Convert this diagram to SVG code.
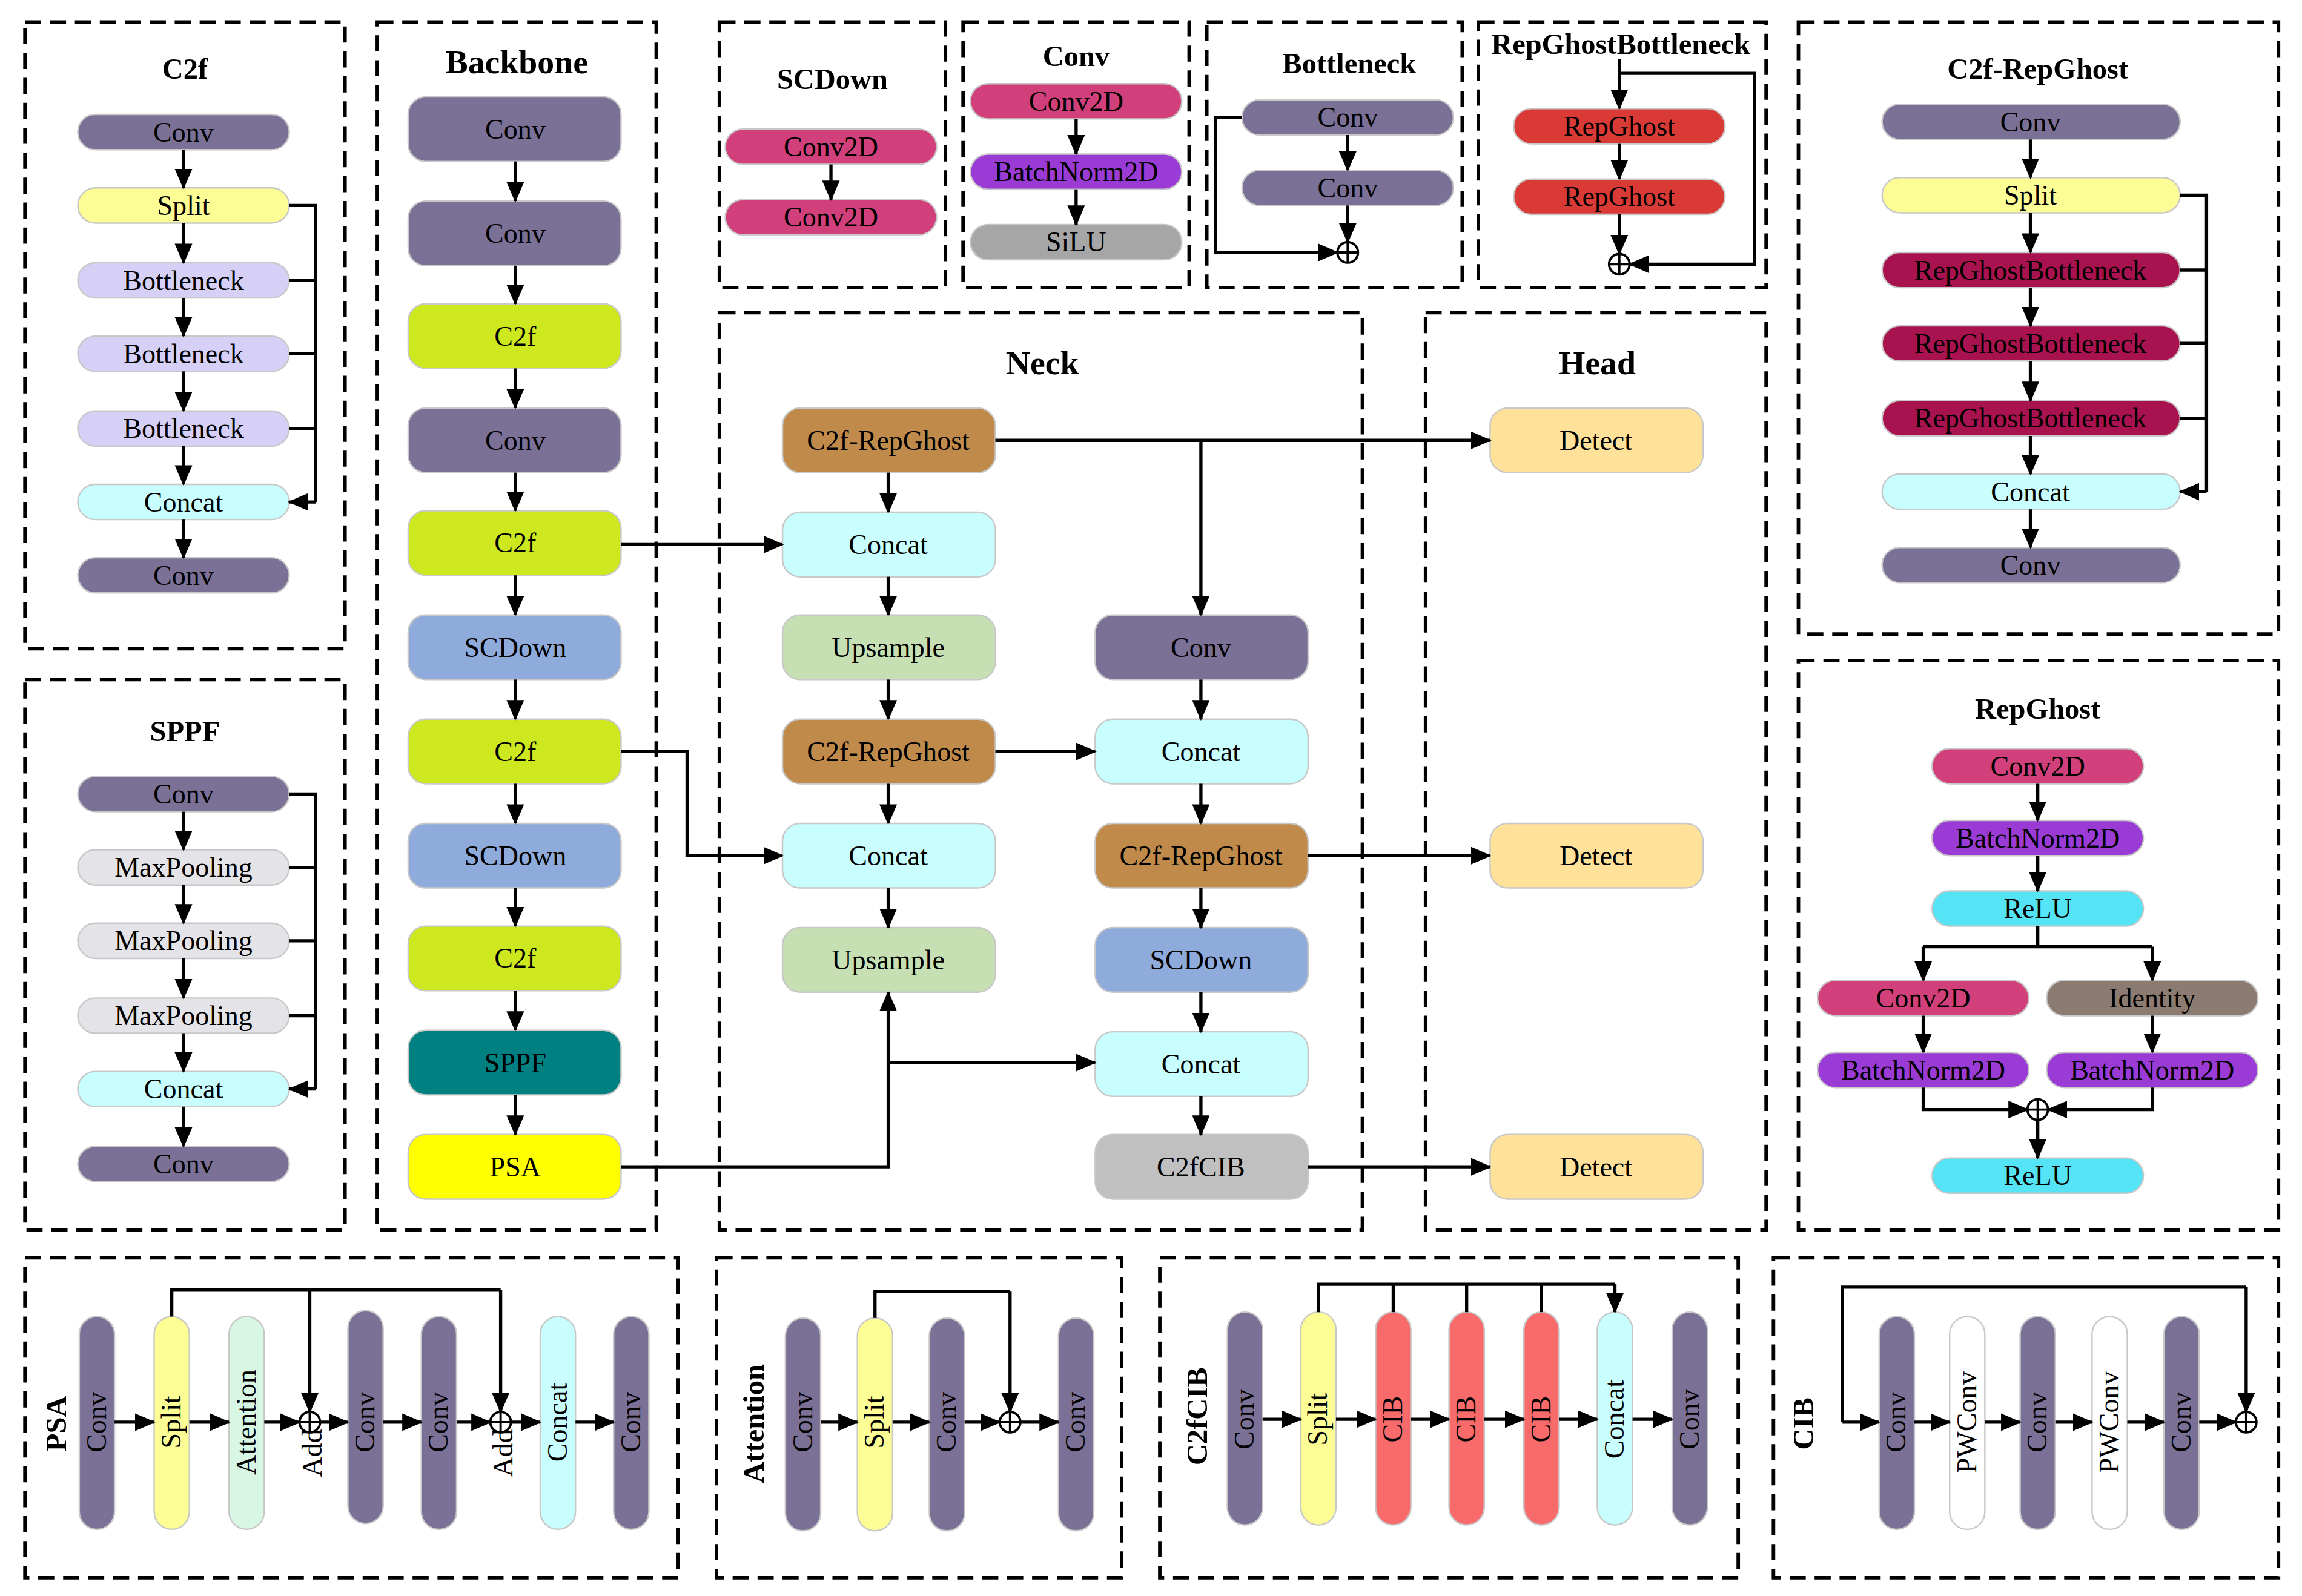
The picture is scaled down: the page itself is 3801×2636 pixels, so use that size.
<svg xmlns="http://www.w3.org/2000/svg" width="3801" height="2636" viewBox="0 0 3801 2636">
<style>
text{font-family:"Liberation Serif","Times New Roman",serif;fill:#000}
.t{font-size:19px;text-anchor:middle;dominant-baseline:central}
.ti{font-size:20px;font-weight:bold;text-anchor:middle;dominant-baseline:central}
.vt{font-size:19px;text-anchor:middle}
.vl{font-size:20px;font-weight:bold;text-anchor:middle}
.box{fill:none;stroke:#000;stroke-width:2.4;stroke-dasharray:11 6}
.n rect{stroke:#C8C8C8;stroke-width:1}
.c{fill:none;stroke:#000;stroke-width:2.2}
.a{fill:none;stroke:#000;stroke-width:2.2;marker-end:url(#ah)}
.op{fill:#fff;stroke:#000;stroke-width:1.6}
.conv{fill:#7B7096}.split{fill:#FDFD96}.bott{fill:#D6D0F7}.concat{fill:#C8FEFE}.mp{fill:#E4E4E8}
.c2f{fill:#CDE81E}.scd{fill:#8FABDB}.sppf{fill:#008080}.psa{fill:#FFFF00}.crg{fill:#C08A4A}
.ups{fill:#C6E0B4}.cib2{fill:#C0C0C0}.det{fill:#FFE199}.c2d{fill:#D1407A}.bn{fill:#9B3BD6}
.silu{fill:#A6A6A6}.rg{fill:#D93A36}.rgb{fill:#A8124E}.relu{fill:#55E4F5}.idn{fill:#8C7B70}
.att{fill:#D7F6E4}.cib{fill:#F96B6B}.pw{fill:#FFFFFF}
</style>
<defs>
<marker id="ah" markerUnits="userSpaceOnUse" markerWidth="14" markerHeight="12" refX="13" refY="6" orient="auto">
<path d="M0,0 L14,6 L0,12 Z" fill="#000"/>
</marker>
</defs>
<rect width="3801" height="2636" fill="#fff"/>
<g transform="scale(2.4241)">
<g id="frames">
<rect class="box" x="17" y="15" width="218" height="427"/>
<rect class="box" x="17" y="463" width="218" height="375"/>
<rect class="box" x="257" y="15" width="190" height="823"/>
<rect class="box" x="490" y="15" width="154" height="181"/>
<rect class="box" x="656" y="15" width="154" height="181"/>
<rect class="box" x="822" y="15" width="174" height="181"/>
<rect class="box" x="1007" y="15" width="196" height="181"/>
<rect class="box" x="1225" y="15" width="327" height="417"/>
<rect class="box" x="490" y="213" width="438" height="625"/>
<rect class="box" x="971" y="213" width="232" height="625"/>
<rect class="box" x="1225" y="450" width="327" height="388"/>
<rect class="box" x="17" y="857" width="445" height="218"/>
<rect class="box" x="488" y="857" width="276" height="218"/>
<rect class="box" x="790" y="857" width="394" height="218"/>
<rect class="box" x="1208" y="857" width="344" height="218"/>
</g>
<g id="titles">
<text class="ti" x="126" y="47">C2f</text>
<text class="ti" x="126" y="498">SPPF</text>
<text class="ti" x="352" y="42" style="font-size:23px">Backbone</text>
<text class="ti" x="567" y="54">SCDown</text>
<text class="ti" x="733" y="38">Conv</text>
<text class="ti" x="919" y="43">Bottleneck</text>
<text class="ti" x="1104" y="30">RepGhostBottleneck</text>
<text class="ti" x="1388" y="47">C2f-RepGhost</text>
<text class="ti" x="710" y="247" style="font-size:23px">Neck</text>
<text class="ti" x="1088" y="247" style="font-size:23px">Head</text>
<text class="ti" x="1388" y="483">RepGhost</text>
<text class="vl" transform="translate(45,970) rotate(-90)">PSA</text>
<text class="vl" transform="translate(520,970) rotate(-90)">Attention</text>
<text class="vl" transform="translate(822,965) rotate(-90)">C2fCIB</text>
<text class="vl" transform="translate(1235,970) rotate(-90)">CIB</text>
</g>
<!-- C2f -->
<g id="c2f_nodes" class="n">
<g id="c2f_conv1"><rect class="conv" x="53" y="78" width="144" height="24" rx="12"/><text class="t" x="125" y="90">Conv</text></g>
<g id="c2f_split"><rect class="split" x="53" y="128" width="144" height="24" rx="12"/><text class="t" x="125" y="140">Split</text></g>
<g id="c2f_b1"><rect class="bott" x="53" y="179" width="144" height="24" rx="12"/><text class="t" x="125" y="191">Bottleneck</text></g>
<g id="c2f_b2"><rect class="bott" x="53" y="229" width="144" height="24" rx="12"/><text class="t" x="125" y="241">Bottleneck</text></g>
<g id="c2f_b3"><rect class="bott" x="53" y="280" width="144" height="24" rx="12"/><text class="t" x="125" y="292">Bottleneck</text></g>
<g id="c2f_concat"><rect class="concat" x="53" y="330" width="144" height="24" rx="12"/><text class="t" x="125" y="342">Concat</text></g>
<g id="c2f_conv2"><rect class="conv" x="53" y="380" width="144" height="24" rx="12"/><text class="t" x="125" y="392">Conv</text></g>
</g>
<!-- SPPF -->
<g id="sppf_nodes" class="n">
<g id="sppf_conv1"><rect class="conv" x="53" y="529" width="144" height="24" rx="12"/><text class="t" x="125" y="541">Conv</text></g>
<g id="sppf_mp1"><rect class="mp" x="53" y="579" width="144" height="24" rx="12"/><text class="t" x="125" y="591">MaxPooling</text></g>
<g id="sppf_mp2"><rect class="mp" x="53" y="629" width="144" height="24" rx="12"/><text class="t" x="125" y="641">MaxPooling</text></g>
<g id="sppf_mp3"><rect class="mp" x="53" y="680" width="144" height="24" rx="12"/><text class="t" x="125" y="692">MaxPooling</text></g>
<g id="sppf_concat"><rect class="concat" x="53" y="730" width="144" height="24" rx="12"/><text class="t" x="125" y="742">Concat</text></g>
<g id="sppf_conv2"><rect class="conv" x="53" y="781" width="144" height="24" rx="12"/><text class="t" x="125" y="793">Conv</text></g>
</g>
<!-- Backbone -->
<g id="backbone_nodes" class="n">
<g id="bb1"><rect class="conv" x="278" y="66" width="145" height="44" rx="12"/><text class="t" x="351" y="88">Conv</text></g>
<g id="bb2"><rect class="conv" x="278" y="137" width="145" height="44" rx="12"/><text class="t" x="351" y="159">Conv</text></g>
<g id="bb3"><rect class="c2f" x="278" y="207" width="145" height="44" rx="12"/><text class="t" x="351" y="229">C2f</text></g>
<g id="bb4"><rect class="conv" x="278" y="278" width="145" height="44" rx="12"/><text class="t" x="351" y="300">Conv</text></g>
<g id="bb5"><rect class="c2f" x="278" y="348" width="145" height="44" rx="12"/><text class="t" x="351" y="370">C2f</text></g>
<g id="bb6"><rect class="scd" x="278" y="419" width="145" height="44" rx="12"/><text class="t" x="351" y="441">SCDown</text></g>
<g id="bb7"><rect class="c2f" x="278" y="490" width="145" height="44" rx="12"/><text class="t" x="351" y="512">C2f</text></g>
<g id="bb8"><rect class="scd" x="278" y="561" width="145" height="44" rx="12"/><text class="t" x="351" y="583">SCDown</text></g>
<g id="bb9"><rect class="c2f" x="278" y="631" width="145" height="44" rx="12"/><text class="t" x="351" y="653">C2f</text></g>
<g id="bb10"><rect class="sppf" x="278" y="702" width="145" height="44" rx="12"/><text class="t" x="351" y="724">SPPF</text></g>
<g id="bb11"><rect class="psa" x="278" y="773" width="145" height="44" rx="12"/><text class="t" x="351" y="795">PSA</text></g>
</g>
<!-- Neck / Head -->
<g id="neck_nodes" class="n">
<g id="nk1"><rect class="crg" x="533" y="278" width="145" height="44" rx="12"/><text class="t" x="605" y="300">C2f-RepGhost</text></g>
<g id="nk2"><rect class="concat" x="533" y="349" width="145" height="44" rx="12"/><text class="t" x="605" y="371">Concat</text></g>
<g id="nk3"><rect class="ups" x="533" y="419" width="145" height="44" rx="12"/><text class="t" x="605" y="441">Upsample</text></g>
<g id="nk4"><rect class="crg" x="533" y="490" width="145" height="44" rx="12"/><text class="t" x="605" y="512">C2f-RepGhost</text></g>
<g id="nk5"><rect class="concat" x="533" y="561" width="145" height="44" rx="12"/><text class="t" x="605" y="583">Concat</text></g>
<g id="nk6"><rect class="ups" x="533" y="632" width="145" height="44" rx="12"/><text class="t" x="605" y="654">Upsample</text></g>
<g id="nk7"><rect class="conv" x="746" y="419" width="145" height="44" rx="12"/><text class="t" x="818" y="441">Conv</text></g>
<g id="nk8"><rect class="concat" x="746" y="490" width="145" height="44" rx="12"/><text class="t" x="818" y="512">Concat</text></g>
<g id="nk9"><rect class="crg" x="746" y="561" width="145" height="44" rx="12"/><text class="t" x="818" y="583">C2f-RepGhost</text></g>
<g id="nk10"><rect class="scd" x="746" y="632" width="145" height="44" rx="12"/><text class="t" x="818" y="654">SCDown</text></g>
<g id="nk11"><rect class="concat" x="746" y="703" width="145" height="44" rx="12"/><text class="t" x="818" y="725">Concat</text></g>
<g id="nk12"><rect class="cib2" x="746" y="773" width="145" height="44" rx="12"/><text class="t" x="818" y="795">C2fCIB</text></g>
<g id="hd1"><rect class="det" x="1015" y="278" width="145" height="44" rx="12"/><text class="t" x="1087" y="300">Detect</text></g>
<g id="hd2"><rect class="det" x="1015" y="561" width="145" height="44" rx="12"/><text class="t" x="1087" y="583">Detect</text></g>
<g id="hd3"><rect class="det" x="1015" y="773" width="145" height="44" rx="12"/><text class="t" x="1087" y="795">Detect</text></g>
</g>
<!-- small modules -->
<g id="mod_nodes" class="n">
<g id="scd1"><rect class="c2d" x="494" y="88" width="144" height="24" rx="12"/><text class="t" x="566" y="100">Conv2D</text></g>
<g id="scd2"><rect class="c2d" x="494" y="136" width="144" height="24" rx="12"/><text class="t" x="566" y="148">Conv2D</text></g>
<g id="cv1"><rect class="c2d" x="661" y="57" width="144" height="24" rx="12"/><text class="t" x="733" y="69">Conv2D</text></g>
<g id="cv2"><rect class="bn" x="661" y="105" width="144" height="24" rx="12"/><text class="t" x="733" y="117">BatchNorm2D</text></g>
<g id="cv3"><rect class="silu" x="661" y="153" width="144" height="24" rx="12"/><text class="t" x="733" y="165">SiLU</text></g>
<g id="bt1"><rect class="conv" x="846" y="68" width="144" height="24" rx="12"/><text class="t" x="918" y="80">Conv</text></g>
<g id="bt2"><rect class="conv" x="846" y="116" width="144" height="24" rx="12"/><text class="t" x="918" y="128">Conv</text></g>
<g id="rgb1"><rect class="rg" x="1031" y="74" width="144" height="24" rx="12"/><text class="t" x="1103" y="86">RepGhost</text></g>
<g id="rgb2"><rect class="rg" x="1031" y="122" width="144" height="24" rx="12"/><text class="t" x="1103" y="134">RepGhost</text></g>
<g id="cr1"><rect class="conv" x="1282" y="71" width="203" height="24" rx="12"/><text class="t" x="1383" y="83">Conv</text></g>
<g id="cr2"><rect class="split" x="1282" y="121" width="203" height="24" rx="12"/><text class="t" x="1383" y="133">Split</text></g>
<g id="cr3"><rect class="rgb" x="1282" y="172" width="203" height="24" rx="12"/><text class="t" x="1383" y="184">RepGhostBottleneck</text></g>
<g id="cr4"><rect class="rgb" x="1282" y="222" width="203" height="24" rx="12"/><text class="t" x="1383" y="234">RepGhostBottleneck</text></g>
<g id="cr5"><rect class="rgb" x="1282" y="273" width="203" height="24" rx="12"/><text class="t" x="1383" y="285">RepGhostBottleneck</text></g>
<g id="cr6"><rect class="concat" x="1282" y="323" width="203" height="24" rx="12"/><text class="t" x="1383" y="335">Concat</text></g>
<g id="cr7"><rect class="conv" x="1282" y="373" width="203" height="24" rx="12"/><text class="t" x="1383" y="385">Conv</text></g>
<g id="rp1"><rect class="c2d" x="1316" y="510" width="144" height="24" rx="12"/><text class="t" x="1388" y="522">Conv2D</text></g>
<g id="rp2"><rect class="bn" x="1316" y="559" width="144" height="24" rx="12"/><text class="t" x="1388" y="571">BatchNorm2D</text></g>
<g id="rp3"><rect class="relu" x="1316" y="607" width="144" height="24" rx="12"/><text class="t" x="1388" y="619">ReLU</text></g>
<g id="rp4"><rect class="c2d" x="1238" y="668" width="144" height="24" rx="12"/><text class="t" x="1310" y="680">Conv2D</text></g>
<g id="rp5"><rect class="idn" x="1394" y="668" width="144" height="24" rx="12"/><text class="t" x="1466" y="680">Identity</text></g>
<g id="rp6"><rect class="bn" x="1238" y="717" width="144" height="24" rx="12"/><text class="t" x="1310" y="729">BatchNorm2D</text></g>
<g id="rp7"><rect class="bn" x="1394" y="717" width="144" height="24" rx="12"/><text class="t" x="1466" y="729">BatchNorm2D</text></g>
<g id="rp8"><rect class="relu" x="1316" y="789" width="144" height="24" rx="12"/><text class="t" x="1388" y="801">ReLU</text></g>
</g>
<!-- bottom vertical nodes -->
<g id="bottom_nodes" class="n">
<g id="p1"><rect class="conv" x="54" y="897" width="24" height="145" rx="12"/><text class="vt" transform="translate(72,969) rotate(-90)">Conv</text></g>
<g id="p2"><rect class="split" x="105" y="897" width="24" height="145" rx="12"/><text class="vt" transform="translate(123,969) rotate(-90)">Split</text></g>
<g id="p3"><rect class="att" x="156" y="897" width="24" height="145" rx="12"/><text class="vt" transform="translate(174,969) rotate(-90)">Attention</text></g>
<g id="p4"><rect class="conv" x="237" y="893" width="24" height="145" rx="12"/><text class="vt" transform="translate(255,969) rotate(-90)">Conv</text></g>
<g id="p5"><rect class="conv" x="287" y="897" width="24" height="145" rx="12"/><text class="vt" transform="translate(305,969) rotate(-90)">Conv</text></g>
<g id="p6"><rect class="concat" x="368" y="897" width="24" height="145" rx="12"/><text class="vt" transform="translate(386,969) rotate(-90)">Concat</text></g>
<g id="p7"><rect class="conv" x="418" y="897" width="24" height="145" rx="12"/><text class="vt" transform="translate(436,969) rotate(-90)">Conv</text></g>
<g id="a1"><rect class="conv" x="535" y="898" width="24" height="145" rx="12"/><text class="vt" transform="translate(553,969) rotate(-90)">Conv</text></g>
<g id="a2"><rect class="split" x="584" y="898" width="24" height="145" rx="12"/><text class="vt" transform="translate(602,969) rotate(-90)">Split</text></g>
<g id="a3"><rect class="conv" x="633" y="898" width="24" height="145" rx="12"/><text class="vt" transform="translate(651,969) rotate(-90)">Conv</text></g>
<g id="a4"><rect class="conv" x="721" y="898" width="24" height="145" rx="12"/><text class="vt" transform="translate(739,969) rotate(-90)">Conv</text></g>
<g id="f1"><rect class="conv" x="836" y="894" width="24" height="145" rx="12"/><text class="vt" transform="translate(854,967) rotate(-90)">Conv</text></g>
<g id="f2"><rect class="split" x="886" y="894" width="24" height="145" rx="12"/><text class="vt" transform="translate(904,967) rotate(-90)">Split</text></g>
<g id="f3"><rect class="cib" x="937" y="894" width="24" height="145" rx="12"/><text class="vt" transform="translate(955,967) rotate(-90)">CIB</text></g>
<g id="f4"><rect class="cib" x="987" y="894" width="24" height="145" rx="12"/><text class="vt" transform="translate(1005,967) rotate(-90)">CIB</text></g>
<g id="f5"><rect class="cib" x="1038" y="894" width="24" height="145" rx="12"/><text class="vt" transform="translate(1056,967) rotate(-90)">CIB</text></g>
<g id="f6"><rect class="concat" x="1088" y="894" width="24" height="145" rx="12"/><text class="vt" transform="translate(1106,967) rotate(-90)">Concat</text></g>
<g id="f7"><rect class="conv" x="1139" y="894" width="24" height="145" rx="12"/><text class="vt" transform="translate(1157,967) rotate(-90)">Conv</text></g>
<g id="ci1"><rect class="conv" x="1280" y="897" width="24" height="145" rx="12"/><text class="vt" transform="translate(1298,969) rotate(-90)">Conv</text></g>
<g id="ci2"><rect class="pw" x="1328" y="897" width="24" height="145" rx="12"/><text class="vt" transform="translate(1346,969) rotate(-90)">PWConv</text></g>
<g id="ci3"><rect class="conv" x="1376" y="897" width="24" height="145" rx="12"/><text class="vt" transform="translate(1394,969) rotate(-90)">Conv</text></g>
<g id="ci4"><rect class="pw" x="1425" y="897" width="24" height="145" rx="12"/><text class="vt" transform="translate(1443,969) rotate(-90)">PWConv</text></g>
<g id="ci5"><rect class="conv" x="1474" y="897" width="24" height="145" rx="12"/><text class="vt" transform="translate(1492,969) rotate(-90)">Conv</text></g>
<text class="vt" transform="translate(219,990) rotate(-90)">Add</text>
<text class="vt" transform="translate(349,990) rotate(-90)">Add</text>
</g>
<g id="connectors">
<!-- C2f -->
<path class="a" d="M125,102V128"/><path class="a" d="M125,152V179"/><path class="a" d="M125,203V229"/><path class="a" d="M125,253V280"/><path class="a" d="M125,304V330"/><path class="a" d="M125,354V380"/>
<path class="c" d="M197,140H215V342"/><path class="c" d="M197,191H215M197,241H215M197,292H215"/><path class="a" d="M215,342H197"/>
<!-- SPPF -->
<path class="a" d="M125,553V579"/><path class="a" d="M125,603V629"/><path class="a" d="M125,653V680"/><path class="a" d="M125,704V730"/><path class="a" d="M125,754V781"/>
<path class="c" d="M197,541H215V742"/><path class="c" d="M197,591H215M197,641H215M197,692H215"/><path class="a" d="M215,742H197"/>
<!-- Backbone -->
<path class="a" d="M351,110V137"/><path class="a" d="M351,181V207"/><path class="a" d="M351,251V278"/><path class="a" d="M351,322V348"/><path class="a" d="M351,392V419"/><path class="a" d="M351,463V490"/><path class="a" d="M351,534V561"/><path class="a" d="M351,605V631"/><path class="a" d="M351,675V702"/><path class="a" d="M351,746V773"/>
<!-- Backbone to neck -->
<path class="a" d="M423,371H533"/>
<path class="a" d="M423,512H468V583H533"/>
<path class="a" d="M423,795H605V676"/>
<path class="a" d="M605,724H746"/>
<!-- Neck -->
<path class="a" d="M605,322V349"/><path class="a" d="M605,393V419"/><path class="a" d="M605,463V490"/><path class="a" d="M605,534V561"/><path class="a" d="M605,605V632"/>
<path class="a" d="M678,300H1015"/><path class="a" d="M818,300V419"/>
<path class="a" d="M678,512H746"/>
<path class="a" d="M818,463V490"/><path class="a" d="M818,534V561"/><path class="a" d="M818,605V632"/><path class="a" d="M818,676V703"/><path class="a" d="M818,747V773"/>
<path class="a" d="M891,583H1015"/><path class="a" d="M891,795H1015"/>
<!-- SCDown / Conv -->
<path class="a" d="M566,112V136"/>
<path class="a" d="M733,81V105"/><path class="a" d="M733,129V153"/>
<!-- Bottleneck -->
<path class="a" d="M918,92V116"/><path class="a" d="M918,140V165"/>
<path class="a" d="M846,80H828V172H911"/>
<circle class="op" cx="918" cy="172" r="7"/><path class="c" d="M911,172H925M918,165V179" style="stroke-width:1.6"/>
<!-- RepGhostBottleneck -->
<path class="a" d="M1103,40V74"/><path class="a" d="M1103,98V122"/><path class="a" d="M1103,146V173"/>
<path class="a" d="M1103,50H1195V180H1110"/>
<circle class="op" cx="1103" cy="180" r="7"/><path class="c" d="M1096,180H1110M1103,173V187" style="stroke-width:1.6"/>
<!-- C2f-RepGhost -->
<path class="a" d="M1383,95V121"/><path class="a" d="M1383,145V172"/><path class="a" d="M1383,196V222"/><path class="a" d="M1383,246V273"/><path class="a" d="M1383,297V323"/><path class="a" d="M1383,347V373"/>
<path class="c" d="M1485,133H1503V335"/><path class="c" d="M1485,184H1503M1485,234H1503M1485,285H1503"/><path class="a" d="M1503,335H1485"/>
<!-- RepGhost -->
<path class="a" d="M1388,534V559"/><path class="a" d="M1388,583V607"/>
<path class="c" d="M1388,631V645M1310,645H1466"/><path class="a" d="M1310,645V668"/><path class="a" d="M1466,645V668"/>
<path class="a" d="M1310,692V717"/><path class="a" d="M1466,692V717"/>
<path class="a" d="M1310,741V756H1381"/><path class="a" d="M1466,741V756H1395"/>
<circle class="op" cx="1388" cy="756" r="7"/><path class="c" d="M1381,756H1395M1388,749V763" style="stroke-width:1.6"/>
<path class="a" d="M1388,763V789"/>
<!-- PSA -->
<path class="a" d="M78,969H105"/><path class="a" d="M129,969H156"/><path class="a" d="M180,969H204"/><path class="a" d="M218,969H237"/><path class="a" d="M261,969H287"/><path class="a" d="M311,969H334"/><path class="a" d="M348,969H368"/><path class="a" d="M392,969H418"/>
<path class="c" d="M117,897V879H341"/><path class="a" d="M211,879V962"/><path class="a" d="M341,879V962"/>
<circle class="op" cx="211" cy="969" r="7"/><path class="c" d="M204,969H218M211,962V976" style="stroke-width:1.6"/>
<circle class="op" cx="341" cy="969" r="7"/><path class="c" d="M334,969H348M341,962V976" style="stroke-width:1.6"/>
<!-- Attention -->
<path class="a" d="M559,969H584"/><path class="a" d="M608,969H633"/><path class="a" d="M657,969H681"/><path class="a" d="M695,969H721"/>
<path class="c" d="M596,898V880H688"/><path class="a" d="M688,880V962"/>
<circle class="op" cx="688" cy="969" r="7"/><path class="c" d="M681,969H695M688,962V976" style="stroke-width:1.6"/>
<!-- C2fCIB -->
<path class="a" d="M860,967H886"/><path class="a" d="M910,967H937"/><path class="a" d="M961,967H987"/><path class="a" d="M1011,967H1038"/><path class="a" d="M1062,967H1088"/><path class="a" d="M1112,967H1139"/>
<path class="c" d="M898,894V875H1100M949,875V894M999,875V894M1050,875V894"/><path class="a" d="M1100,875V894"/>
<!-- CIB -->
<path class="a" d="M1255,969H1280"/><path class="a" d="M1304,969H1328"/><path class="a" d="M1352,969H1376"/><path class="a" d="M1400,969H1425"/><path class="a" d="M1449,969H1474"/><path class="a" d="M1498,969H1523"/>
<path class="c" d="M1255,969V877H1530"/><path class="a" d="M1530,877V962"/>
<circle class="op" cx="1530" cy="969" r="7"/><path class="c" d="M1523,969H1537M1530,962V976" style="stroke-width:1.6"/>
</g>
</g>
</svg>
